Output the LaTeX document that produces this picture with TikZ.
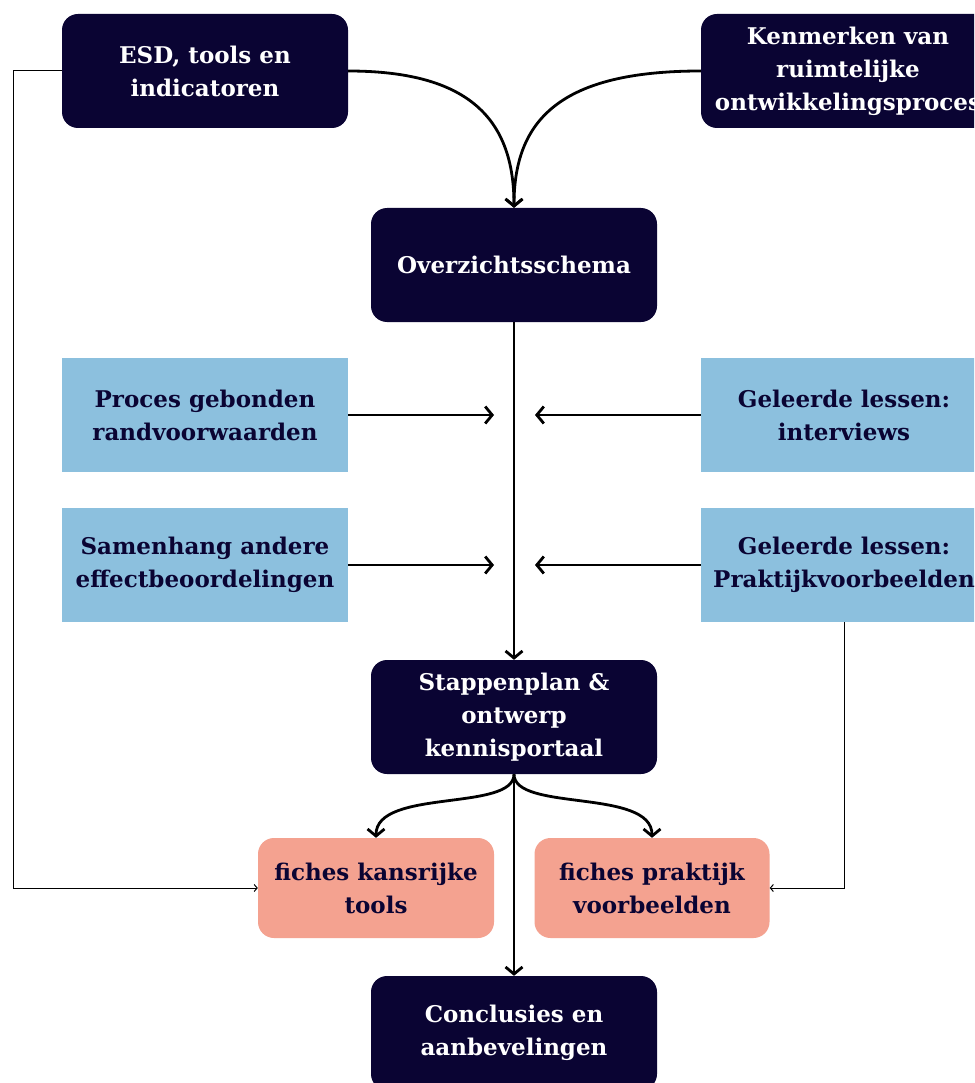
\documentclass[tikz,border=0pt]{standalone}
\usepackage{fontspec}
\setmainfont{DejaVu Serif}
\usetikzlibrary{arrows.meta}
\definecolor{navy}{HTML}{0A0433}
\definecolor{lblue}{HTML}{8CC0DE}
\definecolor{salmon}{HTML}{F4A290}
\definecolor{thin}{HTML}{6A6A6A}
\tikzset{
  txt/.style={align=center, font=\fontsize{23}{33}\selectfont\bfseries, inner sep=0pt},
  dark/.style={txt, fill=navy, text=white, rounded corners=16pt, minimum width=286pt, minimum height=114pt},
  lb/.style={txt, fill=lblue, text=navy, minimum width=286pt, minimum height=114pt},
  sal/.style={txt, fill=salmon, text=navy, rounded corners=16pt, minimum height=100pt},
  conn/.style={line width=2.8pt, -{Straight Barb[length=7pt,width=17pt,line width=2.8pt]}},
  thinc/.style={thin, line width=1pt, -{Straight Barb[length=3pt,width=7pt]}}
}
\begin{document}
\begin{tikzpicture}[x=1pt,y=-1pt]
\useasboundingbox (0,0) rectangle (974,1083);
\clip (0,0) rectangle (974,1083);
\fill[white] (0,0) rectangle (974,1083);
\node[dark] (esd) at (205,71) {ESD, tools en\\indicatoren};
\node[dark, minimum width=294pt] (ken) at (848,71) {Kenmerken van\\ruimtelijke\\ontwikkelingsproces};
\node[dark] (ovz) at (514,265) {Overzichtsschema};
\node[lb] (proc) at (205,415) {Proces gebonden\\randvoorwaarden};
\node[lb] (int) at (844,415) {Geleerde lessen:\\interviews};
\node[lb] (sam) at (205,565) {Samenhang andere\\effectbeoordelingen};
\node[lb] (prak) at (844,565) {Geleerde lessen:\\Praktijkvoorbeelden};
\node[dark] (stap) at (514,717) {Stappenplan \&\\ontwerp\\kennisportaal};
\node[sal, minimum width=236pt] (fk) at (376,888) {fiches kansrijke\\tools};
\node[sal, minimum width=235pt] (fp) at (652,888) {fiches praktijk\\voorbeelden};
\node[dark] (con) at (514,1033) {Conclusies en\\aanbevelingen};
\coordinate (a1) at (494,415);
\coordinate (a2) at (535,415);
\coordinate (a3) at (494,565);
\coordinate (a4) at (535,565);
\draw[conn] (esd.east) .. controls (470,71) and (514,120) .. (ovz.north);
\draw[conn] (ken.west) .. controls (560,71) and (514,120) .. (ovz.north);
\draw[conn] (ovz.south) -- (stap.north);
\draw[conn] (proc.east) -- (a1);
\draw[conn] (int.west) -- (a2);
\draw[conn] (sam.east) -- (a3);
\draw[conn] (prak.west) -- (a4);
\draw[conn] (stap.south) .. controls (514,812) and (376,788) .. (fk.north);
\draw[conn] (stap.south) .. controls (514,812) and (652,788) .. (fp.north);
\draw[conn] (stap.south) -- (con.north);
\draw[thinc] (esd.west) -- ++(-48,0) |- (fk.west);
\draw[thinc] (prak.south) |- (fp.east);
\end{tikzpicture}
\end{document}
